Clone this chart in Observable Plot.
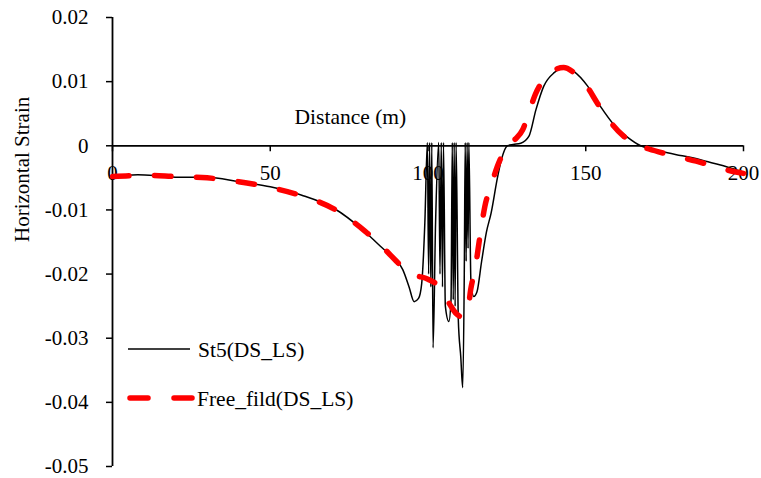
<!DOCTYPE html>
<html><head><meta charset="utf-8">
<script src="https://cdn.jsdelivr.net/npm/d3@7"></script>
<script src="https://cdn.jsdelivr.net/npm/@observablehq/plot@0.6"></script>
<style>
body{margin:0;background:#fff;}
#wrap{position:relative;width:761px;height:478px;font-family:"Liberation Serif","Times New Roman",serif;}
#legend{position:absolute;left:0;top:0;pointer-events:none;}
</style></head><body><div id="wrap"></div>
<script>
const xTicks = [0, 50, 100, 150, 200];
const yTicks = [0.02, 0.01, 0, -0.01, -0.02, -0.03, -0.04, -0.05];
const seriesNames = ["St5(DS_LS)", "Free_fild(DS_LS)"];
const xTitle = "Distance (m)";
const yTitle = "Horizontal Strain";

const st5X = [0, 4, 8, 15, 20, 30, 40, 50, 60, 70, 80, 85, 88, 90, 92, 94, 95.6, 97, 98, 99, 99.8, 100.2, 100.5, 100.9, 101.2, 101.6, 102.4, 103.4, 103.8, 104.2, 104.6, 104.9, 105.5, 106.6, 107.3, 107.7, 108.0, 108.3, 108.6, 108.9, 109.6, 110.4, 111.0, 111.5, 111.8, 112.1, 112.4, 112.7, 112.95, 113.6, 114.5, 115.5, 117, 118.5, 120, 122, 123, 124, 125.2, 127, 129.4, 132, 134.2, 136.7, 140, 143.7, 146.2, 150.6, 154.7, 158.9, 163.3, 167.4, 172, 175.9, 180, 184.2, 188, 192.7, 198, 200];
const st5Y = [-0.0048, -0.0046, -0.0045, -0.0047, -0.0049, -0.0049, -0.0056, -0.0064, -0.0077, -0.0097, -0.0134, -0.0157, -0.0170, -0.0178, -0.0193, -0.0220, -0.0243, -0.0238, -0.0215, -0.0120, 0.0005, -0.0200, 0.0005, -0.0220, 0.0005, -0.0315, -0.0120, 0.0005, -0.0200, 0.0005, -0.0220, 0.0005, -0.0250, -0.0274, -0.0240, 0.0005, -0.0240, 0.0005, -0.0250, 0.0005, -0.0270, -0.0330, -0.0377, -0.0200, 0.0005, -0.0180, 0.0005, -0.0160, 0.0005, -0.0210, -0.0235, -0.0228, -0.0180, -0.0135, -0.0105, -0.0050, -0.0027, -0.0010, 0.0000, 0.0002, 0.0004, 0.0015, 0.0056, 0.0093, 0.0114, 0.0122, 0.0116, 0.0093, 0.0061, 0.0033, 0.0013, 0.0000, -0.0006, -0.0011, -0.0015, -0.0019, -0.0024, -0.0030, -0.0038, -0.0041];

const freeX = [0, 10, 20, 30, 40, 50, 60, 70, 80, 85, 90, 93, 96, 100, 104, 107, 109, 111, 112.5, 113.5, 115, 116.5, 118, 120, 122, 124, 125.5, 128, 130, 132, 134, 137, 140, 143, 146, 150, 154, 158, 162, 166, 170, 175, 180, 185, 190, 195, 200];
const freeY = [-0.0048, -0.0046, -0.0048, -0.0050, -0.0056, -0.0065, -0.0078, -0.0098, -0.0133, -0.0155, -0.0180, -0.0195, -0.0202, -0.0208, -0.0222, -0.0248, -0.0262, -0.0267, -0.0262, -0.0225, -0.0190, -0.0140, -0.0095, -0.0062, -0.0032, -0.0010, 0.0002, 0.0012, 0.0025, 0.0052, 0.0080, 0.0105, 0.0118, 0.0122, 0.0115, 0.0095, 0.0064, 0.0036, 0.0015, 0.0002, -0.0005, -0.0012, -0.0018, -0.0024, -0.0031, -0.0038, -0.0043];

const W = 761, H = 478, mL = 112, mR = 18, mT = 17, mB = 12;
const xDom = [0, 200], yDom = [-0.05, 0.02];
const zeroOffset = (0 - yDom[0]) / (yDom[1] - yDom[0]) * (H - mT - mB);
const st5 = st5X.map((x, i) => ({x, y: st5Y[i]}));
const free = freeX.map((x, i) => ({x, y: freeY[i]}));
const font = "Liberation Serif";

const chart = Plot.plot({
  width: W, height: H,
  marginLeft: mL, marginRight: mR, marginTop: mT, marginBottom: mB,
  style: {fontFamily: font, fontSize: "21px", background: "#fff", color: "#000"},
  x: {domain: xDom},
  y: {domain: yDom},
  marks: [
    Plot.axisY(yTicks, {tickFormat: d => d === 0 ? "0" : d.toFixed(2), tickSize: 6, tickPadding: 18, label: null, fontSize: 21, fontFamily: font, strokeWidth: 1.5}),
    Plot.axisX(xTicks, {anchor: "bottom", dy: -zeroOffset, tickSize: 6, tickPadding: 13, label: null, fontSize: 21, fontFamily: font, strokeWidth: 1.5, tickFormat: d => String(d)}),
    Plot.ruleX([0], {stroke: "#000", strokeWidth: 1.8}),
    Plot.ruleY([0], {stroke: "#000", strokeWidth: 1.8}),
    Plot.line(st5, {x: "x", y: "y", stroke: "#000", strokeWidth: 1.5, curve: "monotone-x"}),
    Plot.line(free, {x: "x", y: "y", stroke: "#ff0000", strokeWidth: 5.5, strokeDasharray: "16.5,25.5", strokeLinecap: "round", curve: "monotone-x"}),
    Plot.text([xTitle], {x: 75.4, y: 0.0044, fontSize: 21.5, fontFamily: font}),
    Plot.text([yTitle], {frameAnchor: "left", rotate: -90, dx: -90, fontSize: 21, fontFamily: font})
  ]
});
const wrap = document.getElementById("wrap");
wrap.appendChild(chart);

// legend overlay
const ns = "http://www.w3.org/2000/svg";
const leg = document.createElementNS(ns, "svg");
leg.setAttribute("id", "legend");
leg.setAttribute("width", W); leg.setAttribute("height", H);
leg.setAttribute("font-family", font);
leg.innerHTML =
  `<line x1="128" x2="190" y1="349" y2="349" stroke="#000" stroke-width="1.5"/>` +
  `<text x="198" y="349" dy="0.35em" font-size="21.5">${seriesNames[0]}</text>` +
  `<line x1="130" x2="193" y1="398" y2="398" stroke="#ff0000" stroke-width="5.5" stroke-linecap="round" stroke-dasharray="18,26"/>` +
  `<text x="197" y="398" dy="0.35em" font-size="21.5">${seriesNames[1]}</text>`;
wrap.appendChild(leg);
</script></body></html>
